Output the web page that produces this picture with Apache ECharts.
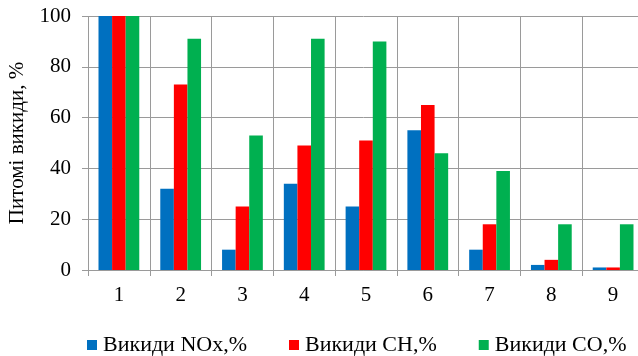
<!DOCTYPE html>
<html><head><meta charset="utf-8">
<script src="https://cdn.jsdelivr.net/npm/echarts@6/dist/echarts.min.js"></script>
<style>html,body{margin:0;padding:0;background:#fff}#c{width:638px;height:356px}</style>
</head><body><div id="c"></div>
<script>
const categories = ['1','2','3','4','5','6','7','8','9'];
const noxValues = [100, 32, 8, 34, 25, 55, 8, 2, 1];
const chValues = [100, 73, 25, 49, 51, 65, 18, 4, 1];
const coValues = [100, 91, 53, 91, 90, 46, 39, 18, 18];
const seriesNames = ['Викиди NOx,%', 'Викиди CH,%', 'Викиди CO,%'];
const yTicks = [0, 20, 40, 60, 80, 100];
const yAxisTitle = 'Питомі викиди, %';

const font = '"Liberation Serif", "Times New Roman", serif';
const gridColor = '#9a9a9a';
const fs = 21;
const chart = echarts.init(document.getElementById('c'), null, {renderer: 'canvas'});
chart.setOption({
  animation: false,
  textStyle: {fontFamily: font},
  grid: {left: 88, right: -6, top: 16, bottom: 86, containLabel: false, outerBoundsMode: 'none'},
  legend: {
    data: seriesNames,
    left: 87, top: 334, padding: 0,
    itemWidth: 10, itemHeight: 10, itemGap: 42,
    icon: 'rect',
    textStyle: {fontFamily: font, fontSize: 22, color: '#000', padding: [0,0,0,1]}
  },
  xAxis: {
    type: 'category', data: categories,
    axisLine: {show: true, lineStyle: {color: gridColor, width: 1}},
    axisTick: {show: true, length: 6, lineStyle: {color: gridColor}},
    splitLine: {show: true, lineStyle: {color: gridColor, width: 1}},
    axisLabel: {fontFamily: font, fontSize: fs, color: '#000', margin: 15}
  },
  yAxis: {
    type: 'value', min: yTicks[0], max: yTicks[yTicks.length-1], interval: 20,
    name: yAxisTitle, nameLocation: 'middle', nameGap: 60,
    nameTextStyle: {fontFamily: font, fontSize: fs, color: '#000'},
    axisLine: {show: false},
    axisTick: {show: true, length: 6, lineStyle: {color: gridColor}},
    splitLine: {show: true, lineStyle: {color: gridColor, width: 1}},
    axisLabel: {fontFamily: font, fontSize: fs, color: '#000', margin: 17}
  },
  series: [
    {name: seriesNames[0], type: 'bar', data: noxValues, itemStyle: {color: '#0070C0'}, barGap: '0%', barCategoryGap: '34%'},
    {name: seriesNames[1], type: 'bar', data: chValues, itemStyle: {color: '#FF0000'}, barGap: '0%', barCategoryGap: '34%'},
    {name: seriesNames[2], type: 'bar', data: coValues, itemStyle: {color: '#00B050'}, barGap: '0%', barCategoryGap: '34%'}
  ]
});
</script></body></html>
